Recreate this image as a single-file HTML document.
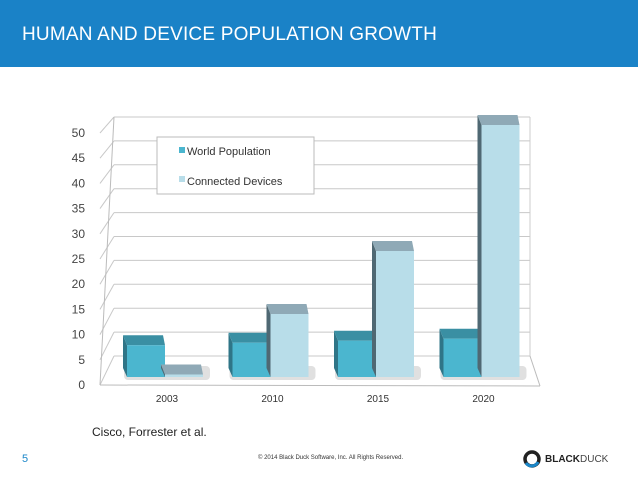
<!DOCTYPE html>
<html><head><meta charset="utf-8"><style>
body{margin:0;width:638px;height:479px;overflow:hidden;background:#fff;font-family:"Liberation Sans",sans-serif;position:relative}
#hdr{position:absolute;left:0;top:0;width:638px;height:67px;background:#1a82c7}
#title{position:absolute;left:22px;top:24px;color:#fff;font-size:19px;letter-spacing:0.2px}
</style></head><body>
<div id="hdr"><div id="title">HUMAN AND DEVICE POPULATION GROWTH</div></div>
<svg id="chart" width="638" height="479" style="position:absolute;left:0;top:0"></svg>
<div style="position:absolute;left:92px;top:425px;font-size:12px;color:#222">Cisco, Forrester et al.</div>
<div style="position:absolute;left:22px;top:453px;font-size:11px;color:#1b87c9">5</div>
<div style="position:absolute;left:258px;top:455px;font-size:6px;color:#333">© 2014 Black Duck Software, Inc. All Rights Reserved.</div>
<div style="position:absolute;left:522px;top:449px;display:flex;align-items:center">
<svg width="20" height="20"><circle cx="10" cy="10" r="7" fill="none" stroke="#222" stroke-width="3.5"/><path d="M4 14 A7 7 0 0 0 16 13" fill="none" stroke="#1b87c9" stroke-width="3"/></svg>
<span style="font-size:10px;font-weight:bold;color:#222;margin-left:3px">BLACK</span><span style="font-size:10px;color:#444">DUCK</span></div>
<script>
const categories=["2003","2010","2015","2020"];
const population=[6.3,6.8,7.2,7.6];
const devices=[0.5,12.5,25,50];
const ticks=[0,5,10,15,20,25,30,35,40,45,50];
const NS="http://www.w3.org/2000/svg";
const svg=document.getElementById('chart');
function el(t,a,p){const e=document.createElementNS(NS,t);for(const k in a)e.setAttribute(k,a[k]);(p||svg).appendChild(e);return e;}
const backY=v=>356-v*(239/50);
const frontY=v=>377-v*5.04;
const catX=i=>166+i*105.5;
ticks.forEach((t,i)=>{
 const y=backY(t);
 const g=el('line',{x1:114,y1:y,x2:530,y2:y,stroke:'#c8c8c8','stroke-width':1});
 
 
 const s=el('line',{x1:100,y1:frontY(t)+8,x2:114,y2:y,stroke:'#c8c8c8','stroke-width':1});
 
 
 const l=el('text',{x:85,y:frontY(t)+12,'text-anchor':'end','font-size':12,fill:'#444'});
 l.textContent=t;
 
 
});
el('line',{x1:100,y1:385,x2:114,y2:117,stroke:'#bbb'});
el('line',{x1:100,y1:385,x2:540,y2:386,stroke:'#bbb'});
el('line',{x1:530,y1:356,x2:540,y2:386,stroke:'#bbb'});
el('line',{x1:530,y1:117,x2:530,y2:356,stroke:'#ccc'});
const lg=el('g',{});


el('rect',{x:157,y:137,width:157,height:57,fill:'#fff',stroke:'#bbb'},lg);
el('rect',{x:179,y:147,width:6,height:6,fill:'#4bb6cf'},lg);
el('rect',{x:179,y:176,width:6,height:6,fill:'#b8dde9'},lg);
const t1=el('text',{x:187,y:155,'font-size':11,fill:'#333'},lg);t1.textContent='World Population';


const t2=el('text',{x:187,y:185,'font-size':11,fill:'#333'},lg);t2.textContent='Connected Devices';


const bw=38;
function bar(x,v,front,top,side,name){
 const y=frontY(v);
 const g=el('g',{});
 
 
 el('path',{d:`M${x} ${y} L${x-4} ${y-10} L${x-4} 368 L${x} 377Z`,fill:side},g);
 el('path',{d:`M${x} ${y} L${x-4} ${y-10} L${x+bw-2} ${y-10} L${x+bw} ${y}Z`,fill:top},g);
 el('rect',{x:x,y:y,width:bw,height:377-y,fill:front},g);
}
categories.forEach((c,i)=>{
 const cx=catX(i);
 el('rect',{x:cx-42,y:366,width:86,height:14,fill:'#ccc',opacity:0.6,rx:4});
 bar(cx-39,population[i],'#4bb6cf','#3a8fa3','#2f7587','bar-population-'+c);
 bar(cx-1,devices[i],'#b8dde9','#8fa9b6','#4f6873','bar-devices-'+c);
 const l=el('text',{x:cx+1,y:402,'text-anchor':'middle','font-size':10,fill:'#333'});
 l.textContent=c;
 
 
});
</script>
</body></html>
